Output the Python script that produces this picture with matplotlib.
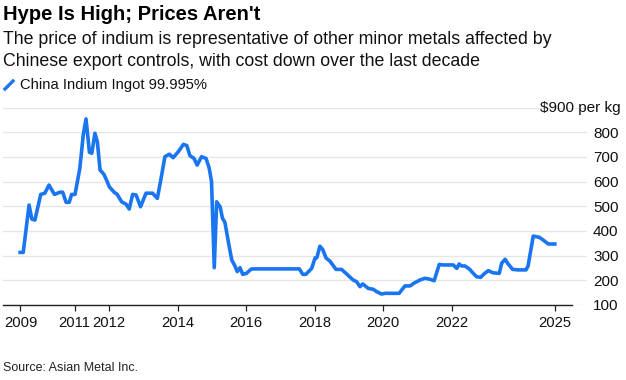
import matplotlib
matplotlib.use("Agg")
import matplotlib.pyplot as plt
from matplotlib.lines import Line2D

plt.rcParams['font.family'] = ['Liberation Sans', 'DejaVu Sans']

# China Indium Ingot 99.995%, $ per kg (decimal years)
years = [2009.41, 2009.50, 2009.67, 2009.75, 2009.84, 2010.01, 2010.13, 2010.25,
         2010.41, 2010.57, 2010.65, 2010.75, 2010.84, 2010.91, 2011.01, 2011.15,
         2011.25, 2011.33, 2011.43, 2011.50, 2011.59, 2011.66, 2011.74, 2011.85,
         2011.93, 2012.01, 2012.15, 2012.24, 2012.37, 2012.50, 2012.59, 2012.69,
         2012.79, 2012.92, 2013.08, 2013.27, 2013.41, 2013.51, 2013.63, 2013.76,
         2013.87, 2014.02, 2014.17, 2014.27, 2014.36, 2014.48, 2014.57, 2014.70,
         2014.83, 2014.92, 2014.99, 2015.07, 2015.14, 2015.24, 2015.31, 2015.38,
         2015.48, 2015.58, 2015.67, 2015.74, 2015.82, 2015.90, 2016.01, 2016.11,
         2016.16, 2017.55, 2017.65, 2017.74, 2017.91, 2018.01, 2018.06, 2018.15,
         2018.23, 2018.33, 2018.44, 2018.62, 2018.78, 2018.91, 2019.12, 2019.22,
         2019.32, 2019.40, 2019.56, 2019.71, 2019.80, 2019.95, 2020.05, 2020.46,
         2020.63, 2020.78, 2020.89, 2021.07, 2021.21, 2021.36, 2021.48, 2021.63,
         2021.75, 2022.04, 2022.14, 2022.21, 2022.28, 2022.38, 2022.52, 2022.62,
         2022.72, 2022.84, 2022.93, 2023.06, 2023.20, 2023.38, 2023.45, 2023.55,
         2023.64, 2023.77, 2023.93, 2024.16, 2024.22, 2024.37, 2024.55, 2024.66,
         2024.81, 2025.00]
price = [313, 313, 505, 448, 444, 548, 553, 586,
         548, 557, 557, 516, 516, 548, 548, 654,
         789, 854, 719, 715, 796, 762, 647, 630,
         606, 579, 557, 548, 518, 508, 489, 548,
         546, 498, 553, 553, 532, 606, 701, 711,
         697, 721, 751, 746, 705, 694, 667, 701,
         694, 656, 600, 251, 518, 498, 451, 435,
         356, 282, 259, 235, 251, 224, 228, 241,
         246, 246, 224, 224, 248, 291, 291, 338,
         325, 290, 278, 244, 244, 228, 201, 194,
         174, 185, 167, 163, 154, 144, 147, 147,
         177, 177, 188, 201, 208, 204, 198, 264,
         262, 262, 248, 266, 258, 258, 244, 228,
         214, 212, 225, 239, 230, 228, 269, 285,
         266, 244, 242, 242, 258, 379, 374, 363,
         347, 347]

xtick_pos = [2009.42, 2011, 2012, 2014, 2016, 2018, 2020, 2022, 2025]
xtick_lbl = ['2009', '2011', '2012', '2014', '2016', '2018', '2020', '2022', '2025']
ytick_pos = [100, 200, 300, 400, 500, 600, 700, 800, 900]
ytick_lbl = ['100', '200', '300', '400', '500', '600', '700', '800', '']

blue = '#1a75f0'

fig = plt.figure(figsize=(6.26, 3.8), dpi=100)
ax = fig.add_axes([0.0048, 0.1976, 0.933, 0.5192])

ax.plot(years, price, color=blue, linewidth=2.6, solid_joinstyle='round', clip_on=False, zorder=3)

ax.set_xlim(2008.91, 2025.94)
ax.set_ylim(100, 900)

ax.set_xticks(xtick_pos)
ax.set_xticklabels(xtick_lbl)
ax.set_yticks(ytick_pos)
ax.set_yticklabels(ytick_lbl)
ax.yaxis.tick_right()
ax.tick_params(axis='y', length=0, pad=4.3, labelsize=11, labelcolor='#111111')
ax.tick_params(axis='x', length=4, width=0.9, pad=4, labelsize=10.6,
               color='#222222', labelcolor='#111111')
ax.grid(axis='y', color='#e6e6e6', linewidth=1)
ax.set_axisbelow(True)

for s in ['top', 'right', 'left']:
    ax.spines[s].set_visible(False)
ax.spines['bottom'].set_bounds(2008.91, 2025.5)
ax.spines['bottom'].set_color('#222222')
ax.spines['bottom'].set_linewidth(1)
ax.spines['bottom'].set_zorder(4)

# unit label sits on the 900 gridline, right-aligned with the tick labels
ax.text(621 / 626, 900, '$900 per kg',
        transform=matplotlib.transforms.blended_transform_factory(fig.transFigure, ax.transData),
        ha='right', va='center', fontsize=11, color='#111111')

fig.text(3 / 626, 1 - 14 / 380, "Hype Is High; Prices Aren't", fontsize=14.5,
         fontweight='bold', ha='left', va='center', color='#000000')
fig.text(3 / 626, 1 - 40 / 380,
         'The price of indium is representative of other minor metals affected by',
         fontsize=12.8, ha='left', va='center', color='#111111')
fig.text(3 / 626, 1 - 62 / 380,
         'Chinese export controls, with cost down over the last decade',
         fontsize=12.8, ha='left', va='center', color='#111111')
fig.add_artist(Line2D([5 / 626, 13 / 626], [1 - 89 / 380, 1 - 81 / 380],
                      color=blue, linewidth=2.4, transform=fig.transFigure))
fig.text(20 / 626, 1 - 85 / 380, 'China Indium Ingot 99.995%', fontsize=10.6,
         ha='left', va='center', color='#111111')
fig.text(3 / 626, 1 - 368 / 380, 'Source: Asian Metal Inc.', fontsize=9,
         ha='left', va='center', color='#222222')

fig.savefig('out.png', dpi=100)
